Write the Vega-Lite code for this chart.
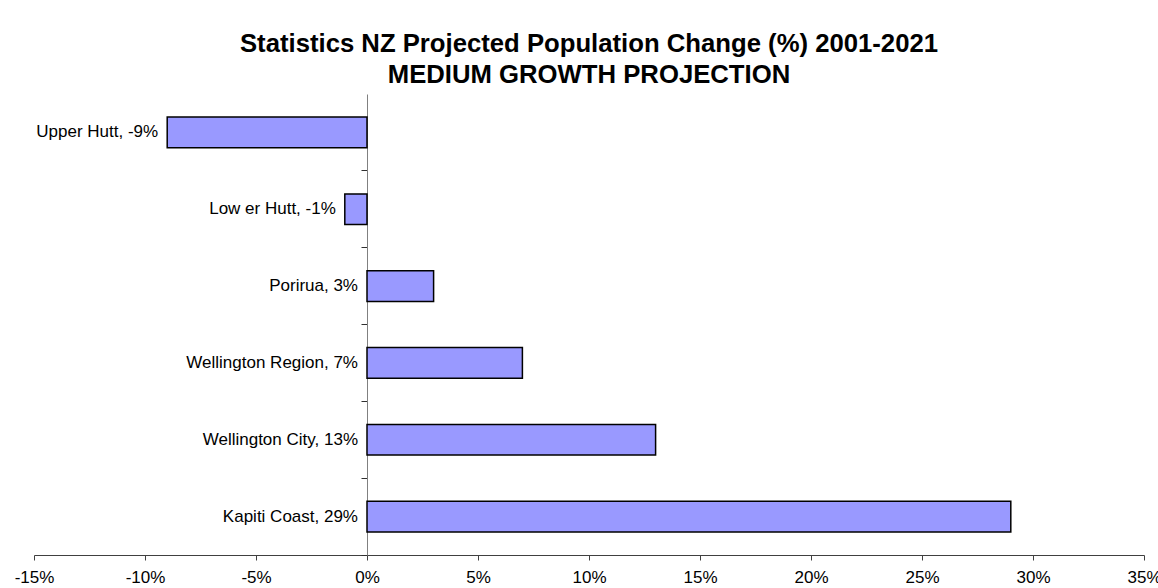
{
  "$schema": "https://vega.github.io/schema/vega-lite/v6.json",
  "width": 1110,
  "height": 461,
  "autosize": {"type": "none"},
  "padding": {"left": 34, "top": 94, "right": 14, "bottom": 33},
  "background": "white",
  "title": {
    "text": ["Statistics NZ Projected Population Change (%) 2001-2021", "MEDIUM GROWTH PROJECTION"],
    "font": "Liberation Sans",
    "fontSize": 25.7,
    "fontWeight": "bold",
    "color": "black",
    "lineHeight": 31,
    "anchor": "middle",
    "offset": 5
  },
  "data": {
    "values": [
      {"area": "Upper Hutt", "value": -9, "label": "Upper Hutt, -9%"},
      {"area": "Lower Hutt", "value": -1, "label": "Low er Hutt, -1%"},
      {"area": "Porirua", "value": 3, "label": "Porirua, 3%"},
      {"area": "Wellington Region", "value": 7, "label": "Wellington Region, 7%"},
      {"area": "Wellington City", "value": 13, "label": "Wellington City, 13%"},
      {"area": "Kapiti Coast", "value": 29, "label": "Kapiti Coast, 29%"}
    ]
  },
  "transform": [
    {"calculate": "datum.value / 100", "as": "frac"},
    {"calculate": "min(datum.value, 0) / 100", "as": "labelPos"}
  ],
  "encoding": {
    "y": {
      "field": "area",
      "type": "nominal",
      "sort": null,
      "scale": {"paddingInner": 0.6, "paddingOuter": 0.3},
      "axis": {
        "title": null,
        "labels": false,
        "ticks": true,
        "tickExtra": true,
        "bandPosition": 1.75,
        "offset": -333,
        "tickSize": 6,
        "tickWidth": 1,
        "domainColor": "#808080",
        "tickColor": "#303030",
        "domainWidth": 1,
        "grid": false
      }
    }
  },
  "layer": [
    {
      "mark": {"type": "bar", "fill": "#9999FF", "stroke": "black", "strokeWidth": 1.5},
      "encoding": {
        "x": {
          "field": "frac",
          "type": "quantitative",
          "scale": {"domain": [-0.15, 0.35], "nice": false, "zero": false},
          "axis": {
            "title": null,
            "labelExpr": "round(datum.value * 100) + '%'",
            "values": [-0.15, -0.1, -0.05, 0, 0.05, 0.1, 0.15, 0.2, 0.25, 0.3, 0.35],
            "tickSize": 5,
            "labelPadding": 9,
            "labelFont": "Liberation Sans",
            "labelFontSize": 17,
            "labelColor": "black",
            "domainColor": "#404040",
            "tickColor": "#404040",
            "grid": false,
            "labelFlush": false,
            "labelOverlap": false
          }
        },
        "x2": {"datum": 0}
      }
    },
    {
      "mark": {"type": "text", "align": "right", "baseline": "middle", "dx": -9, "font": "Liberation Sans", "fontSize": 17, "color": "black"},
      "encoding": {
        "x": {"field": "labelPos", "type": "quantitative"},
        "text": {"field": "label"}
      }
    }
  ],
  "config": {
    "view": {"stroke": null}
  }
}
